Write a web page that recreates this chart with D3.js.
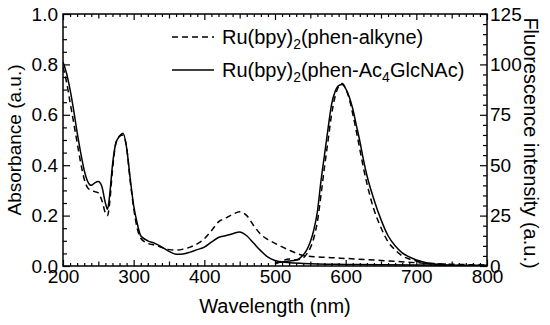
<html>
<head>
<style>
body { margin: 0; background: #fff; }
text { font-family: "Liberation Sans", Arial, sans-serif; fill: #000; }
</style>
</head>
<body>
<svg id="viz"></svg>
<script src="https://cdn.jsdelivr.net/npm/d3@7/dist/d3.min.js"></script>
<script>
var width = 550, height = 325;
var margin = {left: 63, right: 63, top: 14, bottom: 59};

// absorbance spectra (left axis)
var absWl = [200,205,210,215,220,225,230,235,240,245,250,255,260,263,266,270,275,280,285,290,295,300,305,310,320,330,340,350,360,370,380,390,400,410,420,430,440,450,460,470,480,490,500,510,520,540,560,580,600,650,700,750,800];
var absGlcNAc = [0.81,0.765,0.70,0.62,0.53,0.45,0.38,0.335,0.32,0.33,0.335,0.315,0.25,0.225,0.28,0.40,0.49,0.515,0.527,0.47,0.35,0.24,0.17,0.12,0.10,0.09,0.075,0.058,0.047,0.048,0.055,0.065,0.075,0.095,0.113,0.12,0.128,0.135,0.12,0.09,0.06,0.035,0.022,0.016,0.013,0.01,0.008,0.007,0.006,0.005,0.004,0.003,0.003];
var absAlkyne = [0.79,0.73,0.65,0.57,0.49,0.41,0.345,0.31,0.30,0.295,0.29,0.26,0.21,0.20,0.25,0.38,0.49,0.515,0.52,0.47,0.34,0.23,0.15,0.11,0.09,0.083,0.073,0.065,0.063,0.067,0.075,0.088,0.108,0.14,0.175,0.19,0.205,0.215,0.20,0.16,0.125,0.105,0.09,0.076,0.063,0.042,0.036,0.033,0.03,0.022,0.013,0.007,0.004];

// emission spectra (right axis)
var flWl = [500,510,520,530,540,545,550,555,560,565,570,575,580,585,590,595,600,605,610,615,620,625,630,640,650,660,670,680,690,700,710,720,740,760,800];
var flGlcNAc = [1.5,2,2.5,3,5.5,8,12,18,27,42,55,68,80,86.5,89.5,90,88,84,78,70,62,53,45,33,23,15,10,6.5,4.5,3,2,1.2,0.5,0.2,0];
var flAlkyne = [1,2.5,3.5,3,4,6,9,14,22,35,49,62,75,84,89,90.5,88,83,75.5,67,58,49,41,28,19,12,8,5,3.5,2.5,1.5,1,0.4,0.1,0];

var legendNames = [["Ru(bpy)", "2", "(phen-alkyne)"], ["Ru(bpy)", "2", "(phen-Ac", "4", "GlcNAc)"]];

var svg = d3.select("#viz").attr("width", width).attr("height", height);

var x = d3.scaleLinear().domain([200, 800]).range([margin.left, width - margin.right]);
var yA = d3.scaleLinear().domain([0, 1]).range([height - margin.bottom, margin.top]);
var yF = d3.scaleLinear().domain([0, 125]).range([height - margin.bottom, margin.top]);

svg.append("clipPath").attr("id", "clip").append("rect")
    .attr("x", margin.left).attr("y", margin.top)
    .attr("width", x.range()[1] - x.range()[0]).attr("height", yA.range()[0] - yA.range()[1]);

// ticks
function fmtX(d) { return d % 100 == 0 ? d : ""; }
function lenX(d) { return d % 100 == 0 ? 6 : (d % 50 == 0 ? 4.5 : 3); }

var xTicks = d3.range(200, 801, 10);
var gb = svg.append("g").attr("transform", "translate(0," + yA.range()[0] + ")")
    .call(d3.axisBottom(x).tickValues(xTicks).tickSizeOuter(0).tickSizeInner(-3).tickPadding(3).tickFormat(fmtX));
gb.selectAll(".tick line").attr("y2", function(d) { return -lenX(d); });

var gt = svg.append("g").attr("transform", "translate(0," + yA.range()[1] + ")")
    .call(d3.axisTop(x).tickValues(xTicks).tickSizeOuter(0).tickSizeInner(-3).tickFormat(""));
gt.selectAll(".tick line").attr("y2", function(d) { return lenX(d); });

var gl = svg.append("g").attr("transform", "translate(" + margin.left + ",0)")
    .call(d3.axisLeft(yA).tickValues(d3.range(0, 21).map(function(i) { return i * 0.05; }))
        .tickSizeOuter(0).tickSizeInner(-4).tickPadding(5)
        .tickFormat(function(d) { return Math.round(d * 20) % 4 == 0 ? d3.format(".1f")(d) : ""; }));
gl.selectAll(".tick line").attr("x2", function(d) { return Math.round(d * 20) % 4 == 0 ? 7 : 4; });

var gr = svg.append("g").attr("transform", "translate(" + (width - margin.right) + ",0)")
    .call(d3.axisRight(yF).tickValues(d3.range(0, 126, 5))
        .tickSizeOuter(0).tickSizeInner(-4).tickPadding(3)
        .tickFormat(function(d) { return d % 25 == 0 ? d : ""; }));
gr.selectAll(".tick line").attr("x2", function(d) { return d % 25 == 0 ? -7 : -4; });

svg.selectAll(".tick text").style("font-size", "19px").style("font-family", "Liberation Sans, Arial, sans-serif").attr("fill", "#000");
svg.selectAll(".tick line").attr("stroke", "#000").attr("stroke-width", 1.2);
svg.selectAll(".domain").remove();

svg.append("rect")
    .attr("x", margin.left).attr("y", margin.top)
    .attr("width", x.range()[1] - x.range()[0]).attr("height", yA.range()[0] - yA.range()[1])
    .attr("fill", "none").attr("stroke", "#000").attr("stroke-width", 1.5);

// curves
var plot = svg.append("g").attr("clip-path", "url(#clip)");

function drawLine(wl, vals, y, dashed) {
    var line = d3.line()
        .x(function(d, i) { return x(wl[i]); })
        .y(function(d) { return y(d); })
        .curve(d3.curveMonotoneX);
    plot.append("path")
        .attr("d", line(vals))
        .attr("fill", "none")
        .attr("stroke", "#000")
        .attr("stroke-width", 1.5)
        .attr("stroke-dasharray", dashed ? "6,4" : null);
}

drawLine(absWl, absAlkyne, yA, true);
drawLine(absWl, absGlcNAc, yA, false);
drawLine(flWl, flAlkyne, yF, true);
drawLine(flWl, flGlcNAc, yF, false);

// axis titles
svg.append("text")
    .attr("x", (x.range()[0] + x.range()[1]) / 2).attr("y", 313)
    .attr("text-anchor", "middle").style("font-size", "20px")
    .text("Wavelength (nm)");

svg.append("text")
    .attr("transform", "translate(21,140) rotate(-90)")
    .attr("text-anchor", "middle").style("font-size", "19px")
    .text("Absorbance (a.u.)");

svg.append("text")
    .attr("transform", "translate(524,143) rotate(90)")
    .attr("text-anchor", "middle").style("font-size", "20px")
    .text("Fluorescence intensity (a.u.)");

// legend
var legend = svg.append("g");
legendNames.forEach(function(parts, i) {
    var ly = 37 + i * 33;
    legend.append("line")
        .attr("x1", 172).attr("x2", 214).attr("y1", ly).attr("y2", ly)
        .attr("stroke", "#000").attr("stroke-width", 1.5)
        .attr("stroke-dasharray", i == 0 ? "6,4" : null);
    var t = legend.append("text").attr("x", 222).attr("y", ly + 7).style("font-size", "20px");
    parts.forEach(function(p, j) {
        var sub = (j % 2 == 1);
        t.append("tspan")
            .attr("dy", sub ? 5 : (j > 0 ? -5 : 0))
            .style("font-size", sub ? "14px" : "20px")
            .text(p);
    });
});
</script>
</body>
</html>
